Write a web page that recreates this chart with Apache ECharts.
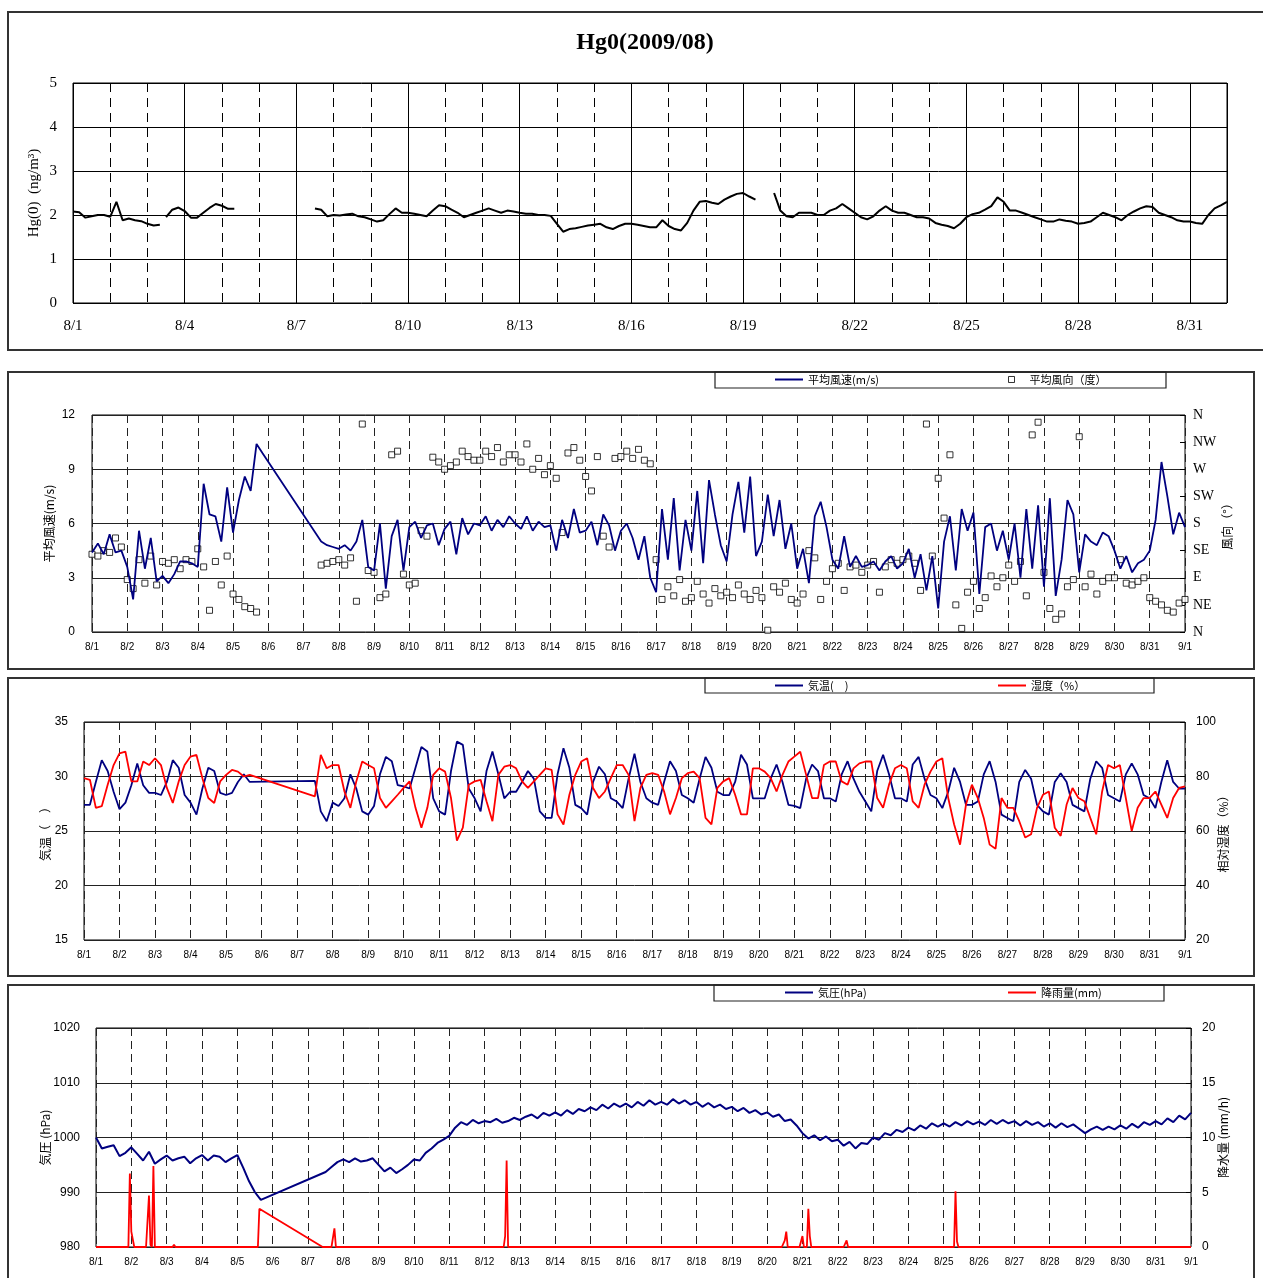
<!DOCTYPE html>
<html><head><meta charset="utf-8">
<script src="https://cdn.jsdelivr.net/npm/echarts@6/dist/echarts.min.js"></script>
<style>html,body{margin:0;padding:0;background:#fff}#c{width:1263px;height:1278px}</style>
</head><body><div id="c"></div>
<script>
// ---------- tick labels ----------
const dayLabels = ['8/1','8/2','8/3','8/4','8/5','8/6','8/7','8/8','8/9','8/10','8/11','8/12','8/13','8/14','8/15','8/16',
  '8/17','8/18','8/19','8/20','8/21','8/22','8/23','8/24','8/25','8/26','8/27','8/28','8/29','8/30','8/31','9/1'];
const dirLabels = ['N','NE','E','SE','S','SW','W','NW','N'];

// ---------- Hg0 (ng/m3), 4-hour readings, four measured segments ----------
const hgSegStart = [0, 2.5, 6.5, 18.8333];   // day offset from 8/1 00:00
const hgSeg1 = [2.08,2.06,1.94,1.97,2.00,2.00, 1.96,2.30,1.88,1.92,1.88,1.86, 1.80,1.76,1.78];
const hgSeg2 = [1.95,2.12,2.17, 2.09,1.94,1.94,2.05,2.16,2.25, 2.21,2.14,2.14];
const hgSeg3 = [2.15,2.12,1.97,
  2.00,1.99,2.01,2.03,1.97,1.95, 1.90,1.85,1.88,2.02,2.15,2.05, 2.05,2.03,2.00,1.97,2.10,2.22,
  2.20,2.12,2.05,1.95,2.00,2.05, 2.10,2.15,2.10,2.05,2.10,2.08, 2.05,2.03,2.03,2.00,2.00,1.98,
  1.80,1.62,1.68,1.70,1.73,1.76, 1.78,1.80,1.72,1.68,1.75,1.80, 1.80,1.78,1.75,1.72,1.72,1.88,
  1.75,1.68,1.65,1.82,2.10,2.30, 2.32,2.28,2.25,2.35,2.42,2.48, 2.50,2.42,2.35];
const hgSeg4 = [2.50,
  2.10,1.97,1.95,2.05,2.05,2.05, 2.00,2.00,2.10,2.15,2.25,2.15, 2.05,1.95,1.90,1.97,2.10,2.20,
  2.10,2.05,2.05,2.00,1.95,1.95, 1.92,1.82,1.78,1.75,1.70,1.80, 1.95,2.02,2.05,2.12,2.20,2.40,
  2.30,2.10,2.10,2.05,2.00,1.95, 1.90,1.85,1.85,1.90,1.87,1.85, 1.80,1.82,1.85,1.95,2.05,2.00,
  1.95,1.88,2.00,2.08,2.15,2.20, 2.18,2.05,2.00,1.95,1.88,1.85, 1.85,1.82,1.80,2.00,2.15,2.22, 2.30];

// ---------- 4-hour readings from 8/1 00:00 to 9/1 00:00 ----------
const windSpeed = [4.4,4.9,4.3,5.4,4.4,4.5, 3.6,1.8,5.6,3.5,5.2,2.8, 3.1,2.7,3.2,3.9,3.9,3.8,
  3.6,8.2,6.5,6.4,5.0,8.0, 5.5,7.3,8.6,7.8,10.4,9.9, null,null,null,null,null,null,
  null,null,null,5.0,4.8,4.7, 4.6,4.8,4.5,5.0,6.2,3.6, 3.4,6.0,2.4,5.3,6.2,3.4,
  5.8,6.1,5.2,5.9,6.0,4.8, 5.7,6.1,4.3,6.3,5.4,6.0, 5.9,6.4,5.6,6.2,5.8,6.4,
  6.0,5.7,6.4,5.6,6.1,5.8, 5.9,4.5,6.2,5.2,6.8,5.5, 5.6,6.1,4.8,6.5,5.9,4.5,
  5.6,6.0,5.2,4.0,5.3,3.0, 2.2,6.8,4.0,7.4,3.4,6.2, 4.5,7.8,3.8,8.4,6.5,4.8,
  3.9,6.5,8.3,5.5,8.6,4.2, 5.0,7.6,5.3,7.3,4.6,6.0, 3.5,4.6,2.7,6.4,7.2,5.8,
  4.0,3.5,5.3,3.6,4.2,3.6, 3.7,3.9,3.4,3.9,4.2,3.5, 3.8,4.6,3.0,4.3,2.3,4.2,
  1.3,5.0,6.4,3.4,6.8,5.6, 6.6,2.1,5.8,6.0,4.5,5.6, 4.0,6.0,3.0,6.8,3.5,7.0,
  2.5,7.4,2.0,4.0,7.3,6.5, 3.3,5.4,5.0,4.8,5.5,5.3, 4.5,3.5,4.2,3.3,3.8,4.0,
  4.5,6.2,9.4,7.5,5.4,6.6, 5.8];
const windDir = [129,126,135,132,156,141, 87,72,120,81,126,78, 117,114,120,105,120,117,
  138,108,36,117,78,126, 63,54,42,39,33,null, null,null,null,null,null,null,
  null,null,null,111,114,117, 120,111,123,51,345,102, 99,57,63,294,300,96,
  78,81,168,159,290,282, 270,276,282,300,291,285, 285,300,291,306,282,294,
  294,282,312,270,288,261, 276,255,165,297,306,285, 258,234,291,159,141,288,
  291,300,288,303,285,279, 120,54,75,60,87,51, 57,84,63,48,72,60,
  66,57,78,63,54,69, 57,3,75,66,81,54, 48,63,135,123,54,84,
  105,114,69,108,111,99, 111,117,66,108,120,114, 120,126,114,69,345,126,
  255,189,294,45,6,66, 84,39,57,93,75,90, 111,84,117,60,327,348,
  99,39,21,30,75,87, 324,75,96,63,84,90, 90,120,81,78,84,90,
  57,51,45,36,33,48, 54];
const airTemp = [27.4,27.4,29.5,31.5,30.5,28.6, 27.0,27.6,29.2,31.2,29.2,28.5, 28.5,28.3,29.5,31.5,30.8,28.3,
  27.6,26.5,28.9,30.8,30.5,28.5, 28.3,28.5,29.5,30.2,29.5,null, null,null,null,null,null,null,
  null,null,null,29.6,26.8,25.9, 27.6,27.3,28.0,30.2,28.9,26.8, 26.5,27.3,30.2,31.8,31.4,29.2,
  29.1,28.9,30.8,32.7,32.3,28.0, 26.8,26.5,30.5,33.2,32.9,28.9, 28.0,26.8,30.5,32.3,30.2,28.0,
  28.6,28.6,29.5,30.5,29.8,26.8, 26.2,26.2,30.2,32.6,30.8,27.4, 27.1,26.5,29.5,30.9,30.2,28.0,
  27.7,27.1,29.8,32.1,29.5,28.0, 27.6,27.4,29.5,31.4,30.5,28.3, 28.0,27.6,29.8,31.8,30.8,28.6,
  28.3,28.3,29.5,32.0,31.1,28.0, 28.0,28.0,29.8,31.1,29.5,27.4, 27.3,27.1,29.8,31.1,30.5,28.0,
  28.0,27.7,30.2,31.4,29.8,28.6, 27.7,26.8,30.5,32.0,30.2,28.0, 28.0,27.7,31.1,31.8,29.8,28.3,
  28.0,27.1,28.6,30.8,29.5,27.4, 27.4,27.7,30.2,31.4,29.5,26.5, 26.2,25.9,29.5,30.6,29.8,27.4,
  26.8,26.5,29.5,30.3,29.5,27.4, 27.1,26.8,29.8,31.4,30.8,28.3, 28.0,27.7,30.2,31.2,30.2,28.3,
  28.0,27.1,29.5,31.5,29.5,28.9, 28.9];
const humidity = [79.4,78.8,68.5,69.1,77.0,84.2, 88.5,89.1,78.2,78.2,85.5,84.2, 86.7,84.2,75.8,70.3,78.2,84.2,
  87.3,87.9,79.4,72.1,70.3,78.2, 80.6,82.4,81.8,80.0,80.6,null, null,null,null,null,null,null,
  null,null,null,72.7,87.9,83.0, 84.2,84.2,74.5,68.5,78.2,85.5, 84.2,83.0,72.1,68.5,70.9,73.3,
  75.8,78.2,68.5,61.2,68.5,80.6, 83.0,81.8,72.1,56.5,61.2,77.0, 78.2,78.8,70.9,63.6,80.6,83.6,
  84.2,83.0,78.2,75.8,78.2,80.6, 83.0,82.4,66.1,62.4,73.3,80.6, 85.5,86.7,75.8,72.1,74.5,79.4,
  84.2,84.2,80.6,63.6,75.8,80.6, 81.2,80.6,74.5,66.1,72.1,79.4, 81.2,81.8,79.4,64.8,62.4,75.8,
  78.2,79.4,73.3,66.1,66.1,83.0, 83.0,81.8,79.4,74.5,80.6,85.5, 87.3,89.1,80.6,72.1,72.1,84.2,
  85.5,85.5,78.2,77.0,83.0,84.8, 85.5,85.5,72.1,68.5,77.0,83.0, 84.2,83.0,70.9,68.5,77.0,81.8,
  85.5,86.7,72.1,62.4,55.0,69.7, 77.0,72.1,64.8,55.0,53.5,72.1, 68.5,68.5,63.6,57.6,58.8,68.5,
  73.3,74.5,61.2,58.2,69.7,75.8, 72.1,70.9,64.8,58.8,74.5,84.2, 83.0,84.2,72.1,60.0,68.5,72.1,
  72.1,74.5,69.7,64.8,72.1,75.8, 76.4];
const pressure = [1000.0,998.0,998.3,998.6,996.6,997.2, 998.2,997.0,995.8,997.4,995.2,996.0,
  996.7,995.8,996.2,996.5,995.3,996.2, 996.8,995.8,996.7,996.5,995.5,996.2,
  996.8,994.5,992.0,990.0,988.6,null, null,null,null,null,null,null,
  null,null,null,993.7,994.6,995.5, 996.0,995.5,996.2,995.6,995.8,996.2,
  995.0,993.8,994.5,993.5,994.2,995.0, 996.0,995.8,997.2,998.0,999.0,999.6,
  1000.3,1001.8,1002.8,1002.3,1003.2,1002.6, 1003.0,1002.8,1003.4,1002.7,1003.0,1003.6,
  1003.2,1003.8,1004.2,1003.5,1004.5,1004.0, 1004.6,1004.0,1005.0,1004.3,1005.2,1004.8,
  1005.5,1005.0,1006.0,1005.3,1006.2,1005.6, 1006.2,1005.5,1006.5,1005.8,1006.8,1006.0,
  1006.5,1006.0,1007.0,1006.2,1006.8,1006.0, 1006.5,1005.6,1006.3,1005.5,1006.0,1005.2,
  1005.6,1004.8,1005.4,1004.5,1005.0,1004.2, 1004.6,1003.8,1004.2,1003.0,1003.3,1002.2,
  1000.8,999.8,1000.4,999.5,1000.2,999.3, 999.6,998.5,999.2,998.0,999.0,998.8,
  1000.0,999.6,1000.8,1000.4,1001.4,1001.0, 1001.8,1001.3,1002.2,1001.6,1002.6,1002.0,
  1002.6,1002.0,1002.8,1002.2,1003.0,1002.4, 1002.9,1002.3,1003.2,1002.5,1003.2,1002.6,
  1003.0,1002.2,1003.0,1002.3,1002.8,1002.0, 1002.6,1001.8,1002.6,1001.9,1002.4,1001.6,
  1000.8,1001.5,1002.0,1001.4,1002.0,1001.5, 1002.2,1001.6,1002.5,1001.8,1002.8,1002.3,
  1003.0,1002.4,1003.5,1002.8,1004.0,1003.3, 1004.5];

// ---------- rainfall (mm/h): hours with rain; other hours 0; hours without record ----------
const rainHour = [23,24,25,36,37,39,53,111,162,278,279,468,469,480,484,485,510,584,585];
const rainMm   = [6.7,1.4,1.5,4.7,0.2,7.4,0.2,3.5,1.7,1.0,7.9,0.6,1.4,1.0,3.5,1.0,0.6,5.1,0.5];
const rainNoRecord = [112, 153];
const lastHour = 744;

// ---------- build series data ----------
const STEP = 1 / 6;
const toXY = arr => arr.map((v, i) => [i * STEP, v]);
const hgSegs = [hgSeg1, hgSeg2, hgSeg3, hgSeg4];
const hgData = [];
hgSegs.forEach((seg, k) => {
  seg.forEach((v, i) => hgData.push([hgSegStart[k] + i * STEP, v]));
  if (k < hgSegs.length - 1) hgData.push([hgSegStart[k] + seg.length * STEP, null]);
});
const rainData = [];
for (let h = 0; h <= lastHour; h++) {
  let v = (h >= rainNoRecord[0] && h <= rainNoRecord[1]) ? null : 0;
  const k = rainHour.indexOf(h);
  if (k >= 0) v = rainMm[k];
  rainData.push([h / 24, v]);
}

const SANS = 'Liberation Sans, Arial, sans-serif';
const SERIF = 'Liberation Serif, Times New Roman, serif';
const JP = 'Noto Sans CJK JP, sans-serif';
const NAVY = '#000080', RED = '#ff0000';

function dayAxis(gridIndex) {
  return {
    type: 'value', gridIndex, min: 0, max: 31, interval: 1,
    axisLine: { show: false }, axisTick: { show: false },
    axisLabel: { formatter: v => dayLabels[v] || '', fontFamily: SANS, fontSize: 10, color: '#000', margin: 10 },
    splitLine: { show: true, lineStyle: { color: '#222', width: 1, type: [8, 5] } }
  };
}
function valAxis(gridIndex, min, max, interval, pos, extra) {
  return Object.assign({
    type: 'value', gridIndex, min, max, interval, position: pos,
    axisLine: { show: false }, axisTick: { show: false },
    axisLabel: { formatter: v => String(v), fontFamily: SANS, fontSize: 12, color: '#000', margin: 16 },
    splitLine: { show: pos === 'left', lineStyle: { color: '#222', width: 1 } },
    nameLocation: 'middle', nameRotate: 90, nameMoveOverlap: false,
    nameTextStyle: { fontFamily: JP, fontSize: 12, color: '#000' }
  }, extra);
}
function legendLine(name, left, top, color) {
  return { data: [{ name }], left, top, padding: 0, icon: 'rect', itemWidth: 28, itemHeight: 2,
    itemStyle: { color }, textStyle: { fontFamily: JP, fontSize: 11, color: '#000' }, selectedMode: false };
}
const plainLabel = (margin) => ({ formatter: v => String(v), fontFamily: SANS, fontSize: 12, color: '#000', margin });

const chart = echarts.init(document.getElementById('c'), null, { renderer: 'canvas' });
chart.setOption({
  animation: false,
  backgroundColor: '#fff',
  title: { text: 'Hg0(2009/08)', left: 640, top: 26, textAlign: 'center',
    textStyle: { fontFamily: SERIF, fontSize: 24, fontWeight: 'bold', color: '#000' } },
  grid: [
    { left: 73, top: 83, width: 1154, height: 220, show: true, borderColor: '#000', borderWidth: 1, outerBoundsMode: 'none' },
    { left: 92, top: 415, width: 1093, height: 217, show: true, borderColor: '#000', borderWidth: 1, outerBoundsMode: 'none' },
    { left: 84, top: 722, width: 1101, height: 218, show: true, borderColor: '#000', borderWidth: 1, outerBoundsMode: 'none' },
    { left: 96, top: 1028, width: 1095, height: 219, show: true, borderColor: '#000', borderWidth: 1, outerBoundsMode: 'none' }
  ],
  legend: [
    legendLine('平均風速(m/s)', 775, 374, NAVY),
    { data: [{ name: '平均風向（度）', itemStyle: { color: '#fff', borderColor: '#000', borderWidth: 1 } }],
      left: 1008, top: 374, padding: 0, icon: 'rect', itemWidth: 6, itemHeight: 6, selectedMode: false,
      textStyle: { fontFamily: JP, fontSize: 11, color: '#000', padding: [0, 0, 0, 10] } },
    legendLine('気温(　)', 775, 680, NAVY),
    legendLine('湿度（%）', 998, 680, RED),
    legendLine('気圧(hPa)', 785, 987, NAVY),
    legendLine('降雨量(mm)', 1008, 987, RED)
  ],
  xAxis: [
    { type: 'value', gridIndex: 0, min: 0, max: 31, interval: 3,
      axisLine: { show: false }, axisTick: { show: false },
      axisLabel: { formatter: v => (v < 31 ? dayLabels[v] : ''), fontFamily: SERIF, fontSize: 15, color: '#000', margin: 16 },
      splitLine: { show: true, lineStyle: { color: '#000', width: 1 } } },
    { type: 'value', gridIndex: 0, min: 0, max: 31, interval: 1,
      axisLine: { show: false }, axisTick: { show: false }, axisLabel: { show: false },
      splitLine: { show: true, lineStyle: { color: '#000', width: 1, type: [9, 6] } } },
    dayAxis(1), dayAxis(2), dayAxis(3)
  ],
  yAxis: [
    valAxis(0, 0, 5, 1, 'left', {
      axisLabel: { fontFamily: SERIF, fontSize: 15, color: '#000', margin: 16 },
      splitLine: { show: true, lineStyle: { color: '#000', width: 1 } },
      name: 'Hg(0)  (ng/m³)', nameGap: 31, nameTextStyle: { fontFamily: SERIF, fontSize: 15, color: '#000' } }),
    valAxis(1, 0, 12, 3, 'left', { name: '平均風速(m/s)', nameGap: 37, axisLabel: plainLabel(17) }),
    valAxis(1, 0, 360, 45, 'right', {
      axisLabel: { formatter: v => dirLabels[v / 45], fontFamily: SERIF, fontSize: 14, color: '#000', margin: 8 },
      axisTick: { show: true, inside: true, length: 5, lineStyle: { color: '#000' } },
      name: '風向（°）', nameGap: 36 }),
    valAxis(2, 15, 35, 5, 'left', { name: '気温（　）', nameGap: 33 }),
    valAxis(2, 20, 100, 20, 'right', { name: '相対湿度（%）', nameGap: 32,
      axisLabel: plainLabel(11),
      axisTick: { show: true, inside: true, length: 5, lineStyle: { color: '#000' } } }),
    valAxis(3, 980, 1020, 10, 'left', { name: '気圧 (hPa)', nameGap: 45 }),
    valAxis(3, 0, 20, 5, 'right', { name: '降水量 (mm/h)', nameGap: 26,
      axisLabel: plainLabel(11),
      axisTick: { show: true, inside: true, length: 5, lineStyle: { color: '#000' } } })
  ],
  series: [
    { name: 'Hg0', type: 'line', xAxisIndex: 0, yAxisIndex: 0, data: hgData, showSymbol: false,
      connectNulls: false, lineStyle: { color: '#000', width: 2 }, itemStyle: { color: '#000' } },
    { name: '平均風速(m/s)', type: 'line', xAxisIndex: 2, yAxisIndex: 1, data: toXY(windSpeed), showSymbol: false,
      connectNulls: true, lineStyle: { color: NAVY, width: 1.8 }, itemStyle: { color: NAVY } },
    { name: '平均風向（度）', type: 'scatter', xAxisIndex: 2, yAxisIndex: 2, data: toXY(windDir),
      symbol: 'rect', symbolSize: 6, itemStyle: { color: '#fff', borderColor: '#000', borderWidth: 1 } },
    { name: '気温(　)', type: 'line', xAxisIndex: 3, yAxisIndex: 3, data: toXY(airTemp), showSymbol: false,
      connectNulls: true, lineStyle: { color: NAVY, width: 1.8 }, itemStyle: { color: NAVY } },
    { name: '湿度（%）', type: 'line', xAxisIndex: 3, yAxisIndex: 4, data: toXY(humidity), showSymbol: false,
      connectNulls: true, lineStyle: { color: RED, width: 1.8 }, itemStyle: { color: RED } },
    { name: '気圧(hPa)', type: 'line', xAxisIndex: 4, yAxisIndex: 5, data: toXY(pressure), showSymbol: false,
      connectNulls: true, lineStyle: { color: NAVY, width: 2 }, itemStyle: { color: NAVY } },
    { name: '降雨量(mm)', type: 'line', xAxisIndex: 4, yAxisIndex: 6, data: rainData, showSymbol: false,
      connectNulls: true, clip: false, lineStyle: { color: RED, width: 1.8 }, itemStyle: { color: RED } }
  ],
  graphic: [
    { type: 'rect', shape: { x: 8, y: 12, width: 1262, height: 338 }, style: { fill: 'none', stroke: '#333', lineWidth: 2 }, silent: true },
    { type: 'rect', shape: { x: 8, y: 372, width: 1246, height: 297 }, style: { fill: 'none', stroke: '#333', lineWidth: 2 }, silent: true },
    { type: 'rect', shape: { x: 8, y: 678, width: 1246, height: 298 }, style: { fill: 'none', stroke: '#333', lineWidth: 2 }, silent: true },
    { type: 'rect', shape: { x: 8, y: 985, width: 1246, height: 300 }, style: { fill: 'none', stroke: '#333', lineWidth: 2 }, silent: true },
    { type: 'rect', shape: { x: 715, y: 372, width: 451, height: 16 }, style: { fill: 'none', stroke: '#222', lineWidth: 1.2 }, silent: true },
    { type: 'rect', shape: { x: 705, y: 678, width: 449, height: 15 }, style: { fill: 'none', stroke: '#222', lineWidth: 1.2 }, silent: true },
    { type: 'rect', shape: { x: 714, y: 985, width: 450, height: 16 }, style: { fill: 'none', stroke: '#222', lineWidth: 1.2 }, silent: true }
  ]
});
</script>
</body></html>
